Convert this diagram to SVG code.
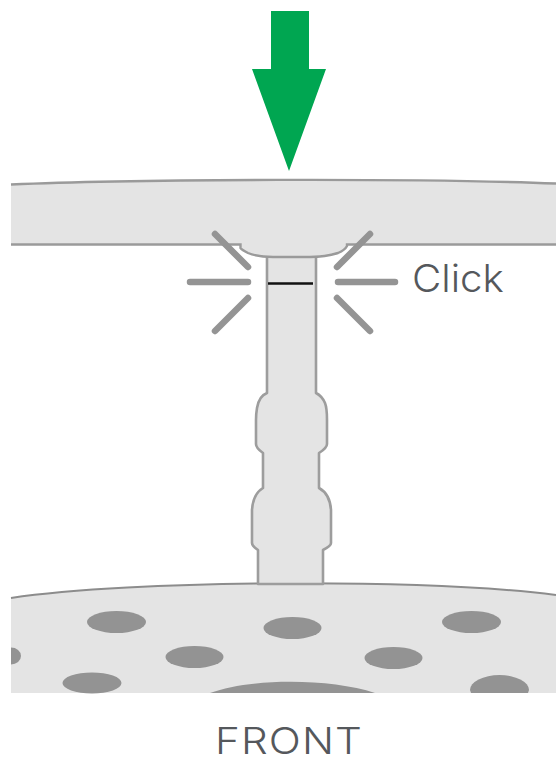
<svg xmlns="http://www.w3.org/2000/svg" width="556" height="762" viewBox="0 0 556 762">
<style>
.p{fill:#e4e4e4;stroke:#9d9d9d;stroke-width:2.6;stroke-linejoin:round}
.l{fill:none;stroke:#9a9a9a;stroke-width:2.4}
.r{stroke:#949494;stroke-width:6.500;stroke-linecap:round;fill:none}
.h{fill:#939393}
.t{font-family:"Inter",sans-serif;font-weight:300;fill:#55585c}
</style>
<rect width="556" height="762" fill="#fff"/>
<g id="arrow"><polygon points="271,11 309,11 309,69 326,69 289,171 252,69 271,69" fill="#00a651"/></g>
<g id="base">
<path d="M11,693V598C130,580 420,578 556,595V693Z" fill="#e4e4e4"/>
<path d="M11,598C130,580 420,578 556,595" fill="none" stroke="#8c8c8c" stroke-width="2"/>
<g class="h">
<ellipse cx="116.500" cy="622" rx="29.500" ry="11"/>
<ellipse cx="292.500" cy="628" rx="29" ry="11"/>
<ellipse cx="471.500" cy="622" rx="29.500" ry="11"/>
<ellipse cx="194.500" cy="657" rx="29" ry="11"/>
<ellipse cx="393.500" cy="658" rx="29" ry="11"/>
<path d="M11,647.500A10,8.500 0 0 1 11,664.500Z"/>
<ellipse cx="92" cy="683" rx="29.500" ry="10.500"/>
<path d="M470,690A29.500,15 0 0 1 529,690L528,693H471Z"/>
<path d="M210,693C250,678 330,678 375,693Z"/>
</g>
</g>
<g id="stem">
<path class="p" d="M267,255V393Q259,396 257,408Q256,414 256,420V444Q256,448 263,453V488Q253,494 252,510V543Q252,546 258,550V584H323V550Q331,546 331,543V510Q330,494 319,488V453Q327,448 327,444V420Q327,408 325,403Q322,396 316,393V255Z"/>
<path d="M268,283.500H313" stroke="#111" stroke-width="2.600" fill="none"/>
</g>
<g id="plate">
<path d="M11,184.500C130,179 420,178 556,183.500V244.500H347V246Q345,250 338,253Q325,257 310,257H273Q258,257 248,253Q242,250 240.500,248V244.500H11Z" fill="#e4e4e4"/>
<path class="l" d="M11,184.500C130,179 420,178 556,183.500"/>
<path class="l" d="M11,244.500H240.500V248Q242,250 248,253Q258,257 273,257H310Q325,257 338,253Q345,250 347,246V244.500H556"/>
</g>
<g id="click-rays">
<path class="r" d="M215,234L248,267M248,282H190M248,298L215,331M370,234L337,267M338,282H395M337,298L370,331"/>
</g>
<text id="click" class="t" transform="translate(412 292) scale(1.060 1)" font-size="38">Click</text>
<text id="front" class="t" transform="translate(215 753.500) scale(1.140 1)" font-size="37" letter-spacing="1">FRONT</text>
</svg>
